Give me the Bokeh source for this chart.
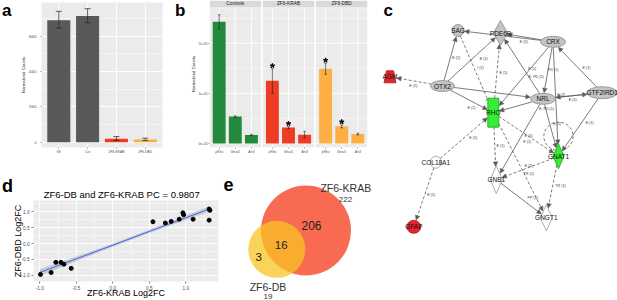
import math
from bokeh.plotting import figure
from bokeh.models import (FactorRange, Range1d, FixedTicker, Whisker, TeeHead, NormalHead,
                          Arrow, ColumnDataSource, NumeralTickFormatter)
from bokeh.layouts import row, column
from bokeh.embed import file_html
from bokeh.resources import INLINE
from bokeh.core.properties import value

FONT = "Liberation Sans"

# ============================ DATA ============================
# (a) normalized counts
a_groups = ["Wt", "Crx", "ZF6-KRAB", "ZF6-DBD"]
a_counts = [6900, 7130, 190, 150]
a_err_lo = [6450, 6760, 100, 90]
a_err_hi = [7400, 7550, 320, 230]
a_yticks = [0, 2000, 4000, 6000]
a_yminor = [1000, 3000, 5000, 7000]

# (b) faceted normalized counts
b_facets = ["Controls", "ZF6-KRAB", "ZF6-DBD"]
b_genes = ["pRho", "Gnat1", "Arr3"]
b_controls = [243000, 53500, 16800]
b_krab = [125000, 31500, 17400]
b_dbd = [149000, 34000, 18800]
b_controls_lo = [229000, 52000, 15300]
b_controls_hi = [257000, 55000, 18300]
b_krab_lo = [100000, 29500, 11000]
b_krab_hi = [149000, 33500, 24000]
b_dbd_lo = [138000, 31000, 17000]
b_dbd_hi = [160000, 37000, 20500]
b_controls_signif = [False, False, False]
b_krab_signif = [True, True, False]
b_dbd_signif = [True, True, False]
b_yticks = [0, 100000, 200000]
b_yminor = [50000, 150000, 250000]
b_ytick_labels = ["0e+00", "1e+05", "2e+05"]

# (c) interaction network
net_names = ["SAG", "PDE6B", "CRX", "OTX2", "AGM", "NRL", "GTF2IRD1", "RHO",
             "GNAT1", "COL18A1", "GNB1", "GNGT1", "GFAP"]
net_regulation = ["none", "none", "none", "none", "up", "none", "none", "down",
                  "down", "none_white", "none_white", "none_white", "up"]
net_edges = [
    ("OTX2", "SAG", "solid"), ("OTX2", "PDE6B", "solid"), ("OTX2", "RHO", "solid"),
    ("OTX2", "NRL", "solid"), ("OTX2", "AGM", "dashed"), ("CRX", "SAG", "solid"),
    ("CRX", "PDE6B", "solid"), ("CRX", "RHO", "solid"), ("CRX", "NRL", "solid"),
    ("CRX", "GNAT1", "solid"), ("NRL", "PDE6B", "solid"), ("NRL", "RHO", "solid"),
    ("NRL", "GNB1", "solid"), ("NRL", "GNAT1", "solid"), ("GTF2IRD1", "CRX", "solid"),
    ("GTF2IRD1", "NRL", "solid"), ("NRL", "GTF2IRD1", "solid"), ("GTF2IRD1", "GNAT1", "solid"),
    ("RHO", "PDE6B", "dashed"), ("SAG", "RHO", "inhibit"), ("RHO", "GNB1", "dashed"),
    ("RHO", "GNAT1", "dashed"), ("RHO", "GNGT1", "dashed"), ("COL18A1", "RHO", "dashed"),
    ("COL18A1", "GFAP", "dashed"), ("GNAT1", "GNB1", "dashed"), ("GNAT1", "GNGT1", "dashed"),
    ("GNB1", "GNGT1", "solid"),
]
net_edge_labels = ["E (2)", "E (1)", "E (1)", "I (1)", "E (1)", "E (1)", "E (1)", "E (1)",
                   "PD (1)", "E, PD (5)", "E (1)", "E (2)", "E (1)", "E, PD (1)", "E (1)",
                   "E (1)", "E (1)", "E (1)", "E (1)", "E (1)", "E (2)", "TR (1)", "TR (1)",
                   "PP (1)", "E (1)"]

# (d) log2 fold changes
d_krab_log2fc = [-0.99, -0.845, -0.78, -0.71, -0.67, -0.57, 0.55, 0.72, 0.80, 0.91,
                 0.96, 0.97, 1.10, 1.32, 1.33, 1.32]
d_dbd_log2fc = [-0.97, -0.91, -0.59, -0.59, -0.65, -0.78, 0.69, 0.65, 0.70, 0.77,
                0.97, 0.91, 0.77, 1.09, 1.05, 0.74]
d_fit_x = [-1.0, -0.5, 0.0, 0.5, 1.0, 1.33]
d_fit_y = [-0.91, -0.48, -0.05, 0.385, 0.815, 1.10]
d_fit_lo = [-1.02, -0.555, -0.10, 0.335, 0.745, 1.01]
d_fit_hi = [-0.80, -0.405, 0.00, 0.435, 0.885, 1.19]
d_ticks = [-1.0, -0.5, 0.0, 0.5, 1.0]
d_minor = [-0.75, -0.25, 0.25, 0.75, 1.25]
d_title = "ZF6-DB and ZF6-KRAB  PC = 0.9807"

# (e) overlap of affected genes
e_sets = ["ZF6-KRAB", "ZF6-DB"]
e_totals = [222, 19]
e_only_krab = 206
e_both = 16
e_only_db = 3

# ============================ STYLE / LAYOUT ============================
GRAY_BG = "#EBEBEB"
C_GREEN = "#23893D"
C_RED = "#EE3B23"
C_ORANGE = "#FCB043"
C_DARK = "#595959"


def base_fig(**kw):
    return figure(toolbar_location=None, tools="", output_backend="svg",
                  outline_line_color=None, border_fill_color="white",
                  frame_align=False, **kw)


def gg_axes(p, tick_font, title_font, tick_out=1):
    for ax in p.axis:
        ax.axis_line_color = None
        ax.major_tick_line_color = "#333333"
        ax.major_tick_line_width = 0.6
        ax.major_tick_out = tick_out
        ax.major_tick_in = 0
        ax.minor_tick_line_color = None
        ax.major_label_text_font = FONT
        ax.major_label_text_font_size = tick_font
        ax.major_label_text_color = "#4D4D4D"
        ax.major_label_standoff = 1
        ax.axis_label_text_font = FONT
        ax.axis_label_text_font_size = title_font
        ax.axis_label_text_font_style = "normal"
        ax.axis_label_text_color = "#1A1A1A"
        ax.axis_label_standoff = 0


def letter(p, txt, x, y_mid, size="17px"):
    p.text(x=[x], y=[y_mid], text=[txt], text_font=value(FONT), text_font_size=size,
           text_font_style="bold", text_color="black", text_align="left", text_baseline="middle")


def holder_fig(w, h):
    return base_fig(width=w, height=h, x_range=Range1d(0, w), y_range=Range1d(h, 0),
                    min_border=0, x_axis_type=None, y_axis_type=None,
                    background_fill_color="white")


TOP_H = 157

# ---------------- letter holders (top row) ----------------
la = holder_fig(17, TOP_H)
letter(la, "a", 1.5, 10.0)
lb = holder_fig(15, TOP_H)
letter(lb, "b", 2.5, 10.0)

# ---------------- panel a ----------------
A_W, A_L, A_R, A_T, A_B = 155, 16, 10, 2, 10
pa = base_fig(x_range=FactorRange(*a_groups, range_padding=0.1, range_padding_units="absolute"),
              y_range=Range1d(-300, 7900), width=A_W, height=TOP_H,
              min_border_left=A_L, min_border_right=A_R, min_border_top=A_T, min_border_bottom=A_B,
              background_fill_color=GRAY_BG)
src_a = ColumnDataSource(dict(g=a_groups, v=a_counts, lo=a_err_lo, hi=a_err_hi,
                              c=[C_DARK, C_DARK, C_RED, C_ORANGE]))
pa.vbar(x="g", top="v", bottom=0, width=0.8, fill_color="c", line_color=None, source=src_a)
pa.add_layout(Whisker(source=src_a, base="g", lower="lo", upper="hi", line_color="#222222",
                      line_width=0.7, level="glyph",
                      upper_head=TeeHead(size=6, line_color="#222222", line_width=0.7),
                      lower_head=TeeHead(size=6, line_color="#222222", line_width=0.7)))
a_tick = FixedTicker(ticks=a_yticks, minor_ticks=a_yminor)
pa.yaxis.ticker = a_tick
pa.ygrid.ticker = a_tick
pa.yaxis.axis_label = "Normalized Counts"
gg_axes(pa, "3.5px", "4.3px")
pa.xaxis.major_label_text_font_size = "3.3px"
for g in (pa.xgrid, pa.ygrid):
    g.grid_line_color = "white"
    g.grid_line_width = 0.9
pa.ygrid.minor_grid_line_color = "white"
pa.ygrid.minor_grid_line_width = 0.45

# ---------------- panel b ----------------
B_W, B_L, B_R, B_T, B_B = 185, 16, 5, 0, 10
b_xr = (0, 98)
b_yr = (-8200, 285400)
B_PANEL_TOP = 270000
B_STRIP_BOT = 271500
pb = base_fig(x_range=Range1d(*b_xr), y_range=Range1d(*b_yr), width=B_W, height=TOP_H,
              min_border_left=B_L, min_border_right=B_R, min_border_top=B_T, min_border_bottom=B_B,
              background_fill_color="white")
pb.xgrid.grid_line_color = None
pb.ygrid.grid_line_color = None
facet_vals = [b_controls, b_krab, b_dbd]
facet_lo = [b_controls_lo, b_krab_lo, b_dbd_lo]
facet_hi = [b_controls_hi, b_krab_hi, b_dbd_hi]
facet_sig = [b_controls_signif, b_krab_signif, b_dbd_signif]
facet_col = [C_GREEN, C_RED, C_ORANGE]
p_left = [33 * j for j in range(3)]
p_right = [33 * j + 32 for j in range(3)]
pb.quad(left=p_left, right=p_right, bottom=b_yr[0], top=B_PANEL_TOP, fill_color=GRAY_BG, line_color=None)
pb.quad(left=p_left, right=p_right, bottom=B_STRIP_BOT, top=b_yr[1], fill_color="#D9D9D9", line_color=None)
pb.text(x=[33 * j + 16 for j in range(3)], y=[(B_STRIP_BOT + b_yr[1]) / 2] * 3, text=b_facets,
        text_font=value(FONT), text_font_size="4.8px", text_align="center", text_baseline="middle",
        text_color="#1A1A1A")
bx, bv, blo, bhi, bc, bt = [], [], [], [], [], []
sx_, sy_ = [], []
for j in range(3):
    for i in range(3):
        x = 33 * j + 6 + 10 * i
        bx.append(x)
        bv.append(facet_vals[j][i])
        blo.append(facet_lo[j][i])
        bhi.append(facet_hi[j][i])
        bc.append(facet_col[j])
        bt.append(b_genes[i])
        if facet_sig[j][i]:
            sx_.append(x)
            sy_.append(facet_hi[j][i] + 6000)
gx0, gx1, gy0, gy1, gw = [], [], [], [], []
for j in range(3):
    for t in b_yticks:
        gx0.append(p_left[j]); gx1.append(p_right[j]); gy0.append(t); gy1.append(t); gw.append(0.9)
    for t in b_yminor:
        gx0.append(p_left[j]); gx1.append(p_right[j]); gy0.append(t); gy1.append(t); gw.append(0.45)
for x in bx:
    gx0.append(x); gx1.append(x); gy0.append(b_yr[0]); gy1.append(B_PANEL_TOP); gw.append(0.9)
pb.segment(x0=gx0, y0=gy0, x1=gx1, y1=gy1, line_color="white", line_width=gw)
src_b = ColumnDataSource(dict(x=bx, v=bv, lo=blo, hi=bhi, c=bc))
pb.vbar(x="x", top="v", bottom=0, width=8, fill_color="c", line_color=None, source=src_b)
pb.add_layout(Whisker(source=src_b, base="x", lower="lo", upper="hi", line_color="#222222",
                      line_width=0.6, level="glyph",
                      upper_head=TeeHead(size=2.5, line_color="#222222", line_width=0.6),
                      lower_head=TeeHead(size=2.5, line_color="#222222", line_width=0.6)))
pb.scatter(x=sx_, y=sy_, marker="star", size=5, color="#111111")
pb.yaxis.ticker = FixedTicker(ticks=b_yticks)
pb.yaxis.major_label_overrides = {t: s for t, s in zip(b_yticks, b_ytick_labels)}
pb.xaxis.ticker = FixedTicker(ticks=bx)
pb.xaxis.major_label_overrides = {x: t for x, t in zip(bx, bt)}
pb.yaxis.axis_label = "Normalized Counts"
gg_axes(pb, "3.2px", "4.3px")
pb.xaxis.major_label_text_font_size = "3.3px"
pb.xaxis.major_label_text_font_style = "italic"

# ---------------- panel c (network) ----------------
C_W, C_H = 245, 300
pc = base_fig(x_range=Range1d(372, 617), y_range=Range1d(300, 0), width=C_W, height=C_H,
              min_border=0, x_axis_type=None, y_axis_type=None, background_fill_color="white")
node_x = [457.5, 500.0, 552.5, 442.0, 389.5, 542.5, 601.7, 492.8, 558.0, 435.3, 495.8, 545.8, 413.3]
node_y = [30.0, 32.5, 41.3, 85.5, 76.3, 98.3, 92.2, 112.2, 155.8, 161.7, 179.2, 217.3, 226.3]
node_w = [12, 14, 25, 24, 12, 25, 30, 11, 11, 11, 12, 12, 14]
node_h = [12, 25, 11, 11, 12, 11, 12, 29, 25, 12, 28, 26, 13]
node_shape = ["ellipse", "diamond", "ellipse", "ellipse", "trapezoid", "ellipse", "ellipse",
              "rect", "diamond", "ellipse", "diamond", "diamond", "ellipse"]
reg_fill = {"none": "#C4C4C4", "none_white": "white", "up": "#E3262C", "down": "#33EE33"}
reg_line = {"none": "#8A8A8A", "none_white": "#9A9A9A", "up": "#A81A1E", "down": "#1E9E1E"}
idx = {n: k for k, n in enumerate(net_names)}


def boundary(k, dx, dy):
    a, b = node_w[k] / 2.0, node_h[k] / 2.0
    sh = node_shape[k]
    if sh == "ellipse":
        s = 1.0 / math.sqrt((dx / a) ** 2 + (dy / b) ** 2)
    elif sh == "diamond":
        s = 1.0 / (abs(dx) / a + abs(dy) / b)
    else:
        s = 1.0 / max(abs(dx) / a, abs(dy) / b)
    return node_x[k] + dx * s, node_y[k] + dy * s


edge_groups = {"solid": dict(x0=[], y0=[], x1=[], y1=[]),
               "dashed": dict(x0=[], y0=[], x1=[], y1=[]),
               "inhibit": dict(x0=[], y0=[], x1=[], y1=[])}
for s, t, kind in net_edges:
    i, j = idx[s], idx[t]
    dx, dy = node_x[j] - node_x[i], node_y[j] - node_y[i]
    ln = math.hypot(dx, dy)
    ux, uy = dx / ln, dy / ln
    x0, y0 = boundary(i, ux, uy)
    x1, y1 = boundary(j, -ux, -uy)
    x1 -= ux * 0.6
    y1 -= uy * 0.6
    g = edge_groups[kind]
    g["x0"].append(x0); g["y0"].append(y0); g["x1"].append(x1); g["y1"].append(y1)

EDGE_C = "#5A5A5A"
for kind, g in edge_groups.items():
    if not g["x0"]:
        continue
    head = (TeeHead(size=5, line_color=EDGE_C, line_width=0.8) if kind == "inhibit"
            else NormalHead(size=4.5, fill_color=EDGE_C, line_color=EDGE_C, line_width=0.5))
    pc.add_layout(Arrow(end=head, x_start="x0", y_start="y0", x_end="x1", y_end="y1",
                        source=ColumnDataSource(g), line_color=EDGE_C, line_width=0.8,
                        line_dash=("solid" if kind == "solid" else "3 2"), level="underlay"))

pc.ellipse(x=[558.0], y=[135.8], width=[29.3], height=[28.3], fill_color=None,
           line_color=EDGE_C, line_width=0.8, line_dash="3 2")

for shape in ("ellipse", "rect", "diamond", "trapezoid"):
    ks = [k for k in range(len(net_names)) if node_shape[k] == shape]
    fills = [reg_fill[net_regulation[k]] for k in ks]
    lines = [reg_line[net_regulation[k]] for k in ks]
    if shape == "ellipse":
        pc.ellipse(x=[node_x[k] for k in ks], y=[node_y[k] for k in ks],
                   width=[node_w[k] for k in ks], height=[node_h[k] for k in ks],
                   fill_color=fills, line_color=lines, line_width=0.8)
    elif shape == "rect":
        pc.rect(x=[node_x[k] for k in ks], y=[node_y[k] for k in ks],
                width=[node_w[k] for k in ks], height=[node_h[k] for k in ks],
                fill_color=fills, line_color=lines, line_width=0.8)
    elif shape == "diamond":
        xs = [[node_x[k], node_x[k] + node_w[k] / 2, node_x[k], node_x[k] - node_w[k] / 2] for k in ks]
        ys = [[node_y[k] - node_h[k] / 2, node_y[k], node_y[k] + node_h[k] / 2, node_y[k]] for k in ks]
        pc.patches(xs=xs, ys=ys, fill_color=fills, line_color=lines, line_width=0.8)
    else:
        xs = [[node_x[k] - node_w[k] * 0.3, node_x[k] + node_w[k] * 0.3,
               node_x[k] + node_w[k] / 2, node_x[k] - node_w[k] / 2] for k in ks]
        ys = [[node_y[k] - node_h[k] / 2, node_y[k] - node_h[k] / 2,
               node_y[k] + node_h[k] / 2, node_y[k] + node_h[k] / 2] for k in ks]
        pc.patches(xs=xs, ys=ys, fill_color=fills, line_color=lines, line_width=0.8)

pc.text(x=node_x, y=node_y, text=net_names, text_font=value(FONT), text_font_size="6.5px",
        text_align="center", text_baseline="middle", text_color="#111111")
lab_x = [523.3, 455.7, 483.3, 480.0, 503.0, 412.7, 471.0, 531.7, 552.7, 535.7, 586.0, 560.7,
         572.3, 546.0, 589.3, 556.7, 472.7, 500.0, 528.3, 526.7, 528.3, 528.3, 560.0, 532.3, 430.7]
lab_y = [41.7, 57.3, 58.7, 67.3, 72.7, 85.0, 107.3, 68.3, 69.3, 76.0, 67.7, 94.0, 99.3, 108.3,
         122.7, 123.3, 137.3, 145.7, 135.7, 141.0, 165.0, 173.3, 185.7, 197.7, 194.0]
pc.text(x=lab_x, y=lab_y, text=net_edge_labels, text_font=value(FONT), text_font_size="3.7px",
        text_align="center", text_baseline="middle", text_color="#333333")
letter(pc, "c", 383.0, 10.0)

# ---------------- panel d ----------------
HD_H = 43
hd = holder_fig(222, HD_H)
letter(hd, "d", 1.5, 28.0, size="18px")
hd.text(x=[122.5], y=[37.0], text=[d_title], text_font=value(FONT), text_font_size="9.5px",
        text_color="black", text_align="center", text_baseline="middle")

D_W, D_H, D_L, D_R, D_T, D_B = 222, 100, 33, 4, 0, 17
pdd = base_fig(x_range=Range1d(-1.086, 1.448), y_range=Range1d(-1.194, 1.36), width=D_W, height=D_H,
               min_border_left=D_L, min_border_right=D_R, min_border_top=D_T, min_border_bottom=D_B,
               background_fill_color=GRAY_BG)
pdd.varea(x=d_fit_x, y1=d_fit_lo, y2=d_fit_hi, fill_color="#999999", fill_alpha=0.4)
pdd.line(x=d_fit_x, y=d_fit_y, line_color="#3366FF", line_width=1)
pdd.scatter(x=d_krab_log2fc, y=d_dbd_log2fc, size=4, color="black")
for ax, gr in ((pdd.xaxis, pdd.xgrid), (pdd.yaxis, pdd.ygrid)):
    tk = FixedTicker(ticks=d_ticks, minor_ticks=d_minor)
    ax.ticker = tk
    ax.formatter = NumeralTickFormatter(format="0.0")
    gr.ticker = tk
    gr.grid_line_color = "white"
    gr.grid_line_width = 0.9
    gr.minor_grid_line_color = "white"
    gr.minor_grid_line_width = 0.45
pdd.xaxis.axis_label = "ZF6-KRAB Log2FC"
pdd.yaxis.axis_label = "ZF6-DBD Log2FC"
gg_axes(pdd, "4.7px", "9px", tick_out=2)
for ax in pdd.axis:
    ax.axis_label_text_color = "black"
    ax.major_label_standoff = 0
pdd.xaxis.axis_label_standoff = -5
pdd.yaxis.axis_label_standoff = -5

# ---------------- panel e (Venn) ----------------
E_W, E_H = 150, 143
pe = base_fig(x_range=Range1d(222, 372), y_range=Range1d(300, 157), width=E_W, height=E_H,
              min_border=0, x_axis_type=None, y_axis_type=None, background_fill_color="white")
pe.circle(x=[305.5], y=[230.0], radius=45.0, fill_color="#F86A52", fill_alpha=1.0, line_color=None)
pe.circle(x=[276.3], y=[248.8], radius=28.5, fill_color="#F8C424", fill_alpha=0.75, line_color=None)
pe.text(x=[345.3, 267.5], y=[187.5, 286.7], text=e_sets, text_font=value(FONT),
        text_font_size="10.5px", text_align="center", text_baseline="middle", text_color="#333333")
pe.text(x=[345.0, 267.5], y=[199.3, 296.0], text=[str(v) for v in e_totals], text_font=value(FONT),
        text_font_size="8px", text_align="center", text_baseline="middle", text_color="#333333")
pe.text(x=[311.0], y=[225.0], text=[str(e_only_krab)], text_font=value(FONT),
        text_font_size="12px", text_align="center", text_baseline="middle", text_color="#222222")
pe.text(x=[280.7, 258.3], y=[244.0, 256.7], text=[str(e_both), str(e_only_db)], text_font=value(FONT),
        text_font_size="11.5px", text_align="center", text_baseline="middle", text_color="#222222")
letter(pe, "e", 223.0, 183.5, size="18px")

top = row(la, pa, lb, pb, spacing=0)
bottom = row(column(hd, pdd, spacing=0), pe, spacing=0)
layout = row(column(top, bottom, spacing=0), pc, spacing=0)
open("out.html", "w").write(file_html(layout, INLINE))
